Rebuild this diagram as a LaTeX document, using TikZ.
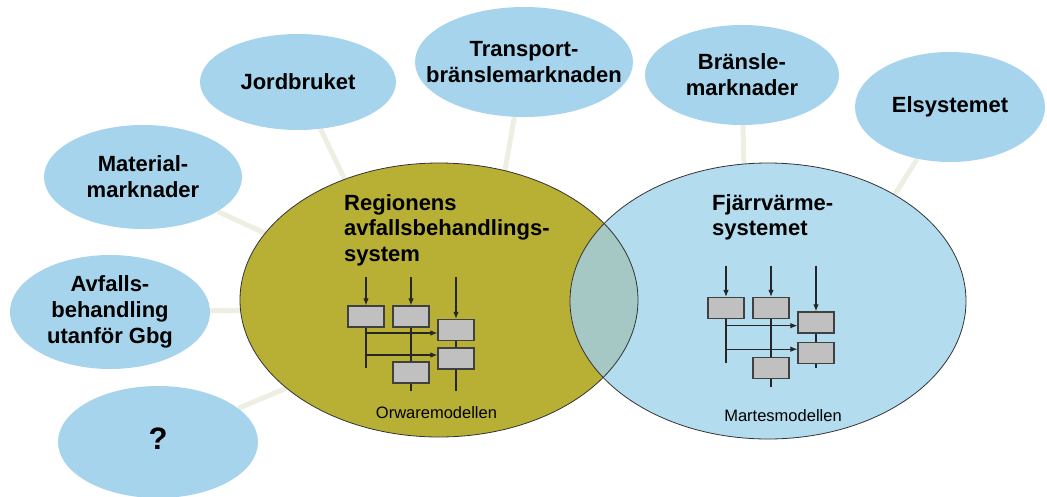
\documentclass[tikz,border=0pt]{standalone}
\usepackage{fontspec}
\setmainfont{Liberation Sans}
\usetikzlibrary{arrows.meta, shapes.geometric, backgrounds}

\definecolor{skyfill}{HTML}{A6D4EC}
\definecolor{fjvfill}{HTML}{B3DCEF}
\definecolor{olivefill}{HTML}{B8B034}
\definecolor{mixfill}{HTML}{A5C8C5}
\definecolor{linkline}{HTML}{EEEEE2}
\definecolor{boxfill}{HTML}{C0C0C0}

\tikzset{
  outer/.style={ellipse, fill=skyfill, inner sep=0pt},
  bigtext/.style={font=\bfseries\fontsize{22}{26}\selectfont, align=center, inner sep=0pt},
  headtext/.style={font=\bfseries\fontsize{22}{25.5}\selectfont, align=left, inner sep=0pt, anchor=north west},
  modeltext/.style={font=\fontsize{16.5}{19}\selectfont, inner sep=0pt, anchor=base},
  link/.style={linkline, line width=5pt},
  rim/.style={draw=black!80, line width=0.8pt},
  modbox/.style={draw=black!75, fill=boxfill, line width=1.2pt, minimum width=36pt, minimum height=21pt, inner sep=0pt},
  flow/.style={black!85, line width=1.1pt},
  pics/modelsketch/.style={code={
    % boxes
    \node[modbox] (-a) at (0,0) {};
    \node[modbox] (-b) at (45,0) {};
    \node[modbox] (-c) at (90,13.5) {};
    \node[modbox] (-d) at (90,42) {};
    \node[modbox] (-e) at (45,56) {};
    % inflows from above
    \coordinate (-ia) at (0,-39.5);
    \coordinate (-ib) at (45,-39.5);
    \coordinate (-ic) at (90,-39.5);
    \draw[flow, ->] (-ia) -- (-a);
    \draw[flow, ->] (-ib) -- (-b);
    \draw[flow, ->] (-ic) -- (-c);
    % branches
    \coordinate (-ta) at (0,51.5);
    \coordinate (-ha) at (0,16.5);
    \coordinate (-hb) at (0,38.5);
    \draw[flow] (-a) -- (-ta);
    \draw[flow, ->] (-ha) -- (-ha -| -c.west);
    \draw[flow, ->] (-hb) -- (-hb -| -d.west);
    \draw[flow] (-b) -- (-e);
    \draw[flow] (-c) -- (-d);
    \draw[flow] (-e.south) -- ++(0,7.5);
    \draw[flow] (-d.south) -- ++(0,#1);
  }}
}

\begin{document}
\begin{tikzpicture}[x=1pt, y=-1pt, >={Latex[length=7pt,width=5.5pt]}]
    \useasboundingbox (0,0) rectangle (1047,496);

    % Surrounding systems
    \node[outer, minimum width=196pt, minimum height=96pt] (jord) at (298,82)
        {}; \node[bigtext] (jord-t) at (jord) {Jordbruket};
    \node[outer, minimum width=218pt, minimum height=110pt] (trans) at (524,62)
        {}; \node[bigtext] (trans-t) at (trans) {Transport-\\bränslemarknaden};
    \node[outer, minimum width=194pt, minimum height=100pt] (brans) at (742,75)
        {}; \node[bigtext] (brans-t) at (brans) {Bränsle-\\marknader};
    \node[outer, minimum width=190pt, minimum height=110pt] (el) at (950,107)
        {}; \node[bigtext] (el-t) at (el) {Elsystemet};
    \node[outer, minimum width=198pt, minimum height=104pt] (mat) at (143,177)
        {}; \node[bigtext] (mat-t) at (mat) {Material-\\marknader};
    \node[outer, minimum width=200pt, minimum height=114pt] (avf) at (110,312)
        {}; \node[bigtext] (avf-t) at (avf) {Avfalls-\\behandling\\utanför Gbg};
    \node[outer, minimum width=200pt, minimum height=112pt] (okand) at (158,442)
        {}; \node[bigtext, font=\bfseries\fontsize{31}{34}\selectfont] (okand-t) at (158,439) {?};

    % The two systems
    \node[ellipse, fill=olivefill, inner sep=0pt, minimum width=398pt, minimum height=274pt] (reg) at (439,300) {};
    \node[ellipse, fill=fjvfill, inner sep=0pt, minimum width=396pt, minimum height=276pt] (fjv) at (768,301) {};
    \begin{scope}
        \clip (reg.center) ellipse [x radius=199pt, y radius=137pt];
        \fill[mixfill] (fjv.center) ellipse [x radius=198pt, y radius=138pt];
    \end{scope}
    \draw[rim] (reg.center) ellipse [x radius=199pt, y radius=137pt];
    \draw[rim] (fjv.center) ellipse [x radius=198pt, y radius=138pt];

    % Links, behind everything
    \begin{scope}[on background layer]
        \draw[link] (jord) -- (reg.128);
        \draw[link] (trans) -- (reg.63);
        \draw[link] (mat) -- (reg.159);
        \draw[link] (avf) -- (reg.183);
        \draw[link] (okand) -- (reg.210);
        \draw[link] (brans) -- (fjv.100);
        \draw[link] (el) -- (fjv.40);
    \end{scope}

    % Headings
    \node[headtext] (reg-t) at (344,194) {Regionens\\avfallsbehandlings-\\system};
    \node[headtext] (fjv-t) at (712,194) {Fjärrvärme-\\systemet};

    % Models
    \pic (orw) at (366,316.5) {modelsketch=21};
    \pic[yscale=1.07] (mar) at (726,308) {modelsketch=4};
    \node[modeltext] (orw-t) at (436.5,418) {Orwaremodellen};
    \node[modeltext] (mar-t) at (783,421) {Martesmodellen};
\end{tikzpicture}
\end{document}
